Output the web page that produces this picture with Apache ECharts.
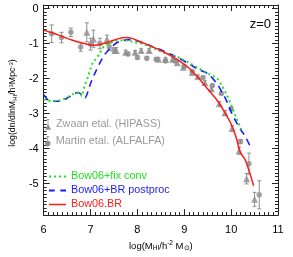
<!DOCTYPE html>
<html><head><meta charset="utf-8">
<script src="https://cdn.jsdelivr.net/npm/echarts@6/dist/echarts.min.js"></script>
<style>html,body{margin:0;padding:0;background:#fff}#c{width:293px;height:257px}</style>
</head><body><div id="c"></div>
<script>
// ---- data ----
const zwaanX   = [6.92, 7.06, 7.35, 7.55, 7.75, 7.95, 8.08, 8.25, 8.45, 8.6, 8.75, 8.85, 8.98, 9.17, 9.29, 9.44, 9.58, 9.75, 9.87, 10.02, 10.17, 10.33, 10.5];
const zwaanY   = [-0.68, -0.87, -0.88, -1.2, -1.25, -1.25, -1.2, -1.2, -1.45, -1.45, -1.45, -1.55, -1.68, -1.83, -1.94, -2.11, -2.29, -2.72, -2.98, -3.43, -4.06, -4.86, -5.45];
const zwaanErr = [0.27, 0.25, 0.12, 0.08, 0.06, 0.05, 0.05, 0.05, 0.04, 0.04, 0.04, 0.04, 0.04, 0.04, 0.04, 0.05, 0.05, 0.06, 0.07, 0.08, 0.1, 0.15, 0.2];

const martinX   = [6.17, 6.38, 6.58, 6.79, 7.0, 7.2, 7.4, 7.5, 7.8, 8.0, 8.2, 8.4, 8.6, 8.8, 9.0, 9.17, 9.4, 9.6, 9.79, 10.0, 10.2, 10.38, 10.6];
const martinY   = [-0.72, -0.83, -0.68, -1.1, -1.02, -1.0, -1.1, -1.2, -1.3, -1.4, -1.42, -1.45, -1.5, -1.5, -1.65, -1.8, -1.97, -2.2, -2.43, -2.86, -3.8, -4.43, -5.32];
const martinErr = [0.25, 0.15, 0.12, 0.12, 0.17, 0.15, 0.1, 0.08, 0.05, 0.05, 0.04, 0.04, 0.04, 0.04, 0.03, 0.03, 0.03, 0.03, 0.03, 0.04, 0.06, 0.3, 0.4];

const fixConvX = [6.0, 6.2, 6.35, 6.5, 6.65, 6.77, 6.81, 6.875, 6.94, 7.0, 7.04, 7.19, 7.25, 7.31, 7.42, 7.52, 7.73, 7.94, 8.15, 8.35, 8.56, 8.77, 8.92, 9.1, 9.3, 9.5, 9.7, 9.8, 9.9, 10.0, 10.1, 10.22];
const fixConvY = [-2.6, -2.65, -2.62, -2.54, -2.43, -2.4, -2.5, -2.2, -1.97, -1.71, -1.57, -1.3, -1.14, -1.06, -0.99, -0.92, -0.91, -0.96, -1.03, -1.14, -1.26, -1.34, -1.42, -1.55, -1.7, -1.85, -2.0, -2.2, -2.45, -2.75, -3.1, -3.45];

const postX = [6.0, 6.1, 6.2, 6.4, 6.55, 6.73, 6.8, 6.88, 6.95, 7.0, 7.1, 7.2, 7.3, 7.46, 7.6, 7.8, 7.95, 8.1, 8.3, 8.5, 8.7, 8.9, 9.1, 9.3, 9.5, 9.7, 9.8, 9.9, 10.0, 10.1, 10.2, 10.3, 10.44];
const postY = [-2.46, -2.62, -2.65, -2.63, -2.52, -2.4, -2.45, -2.55, -2.35, -2.14, -1.83, -1.55, -1.32, -1.08, -0.95, -0.89, -0.92, -0.97, -1.08, -1.18, -1.3, -1.43, -1.58, -1.74, -1.86, -2.15, -2.38, -2.63, -2.95, -3.22, -3.45, -3.65, -4.03];

const brX = [6.0, 6.2, 6.4, 6.6, 6.8, 7.0, 7.1, 7.2, 7.4, 7.6, 7.75, 7.9, 8.1, 8.3, 8.5, 8.7, 8.9, 9.1, 9.3, 9.5, 9.7, 9.9, 10.0, 10.1, 10.2, 10.3, 10.48];
const brY = [-0.62, -0.7, -0.8, -0.9, -0.98, -1.04, -1.05, -1.03, -0.95, -0.86, -0.83, -0.86, -0.97, -1.08, -1.2, -1.34, -1.5, -1.7, -1.98, -2.3, -2.62, -3.05, -3.3, -3.65, -4.12, -4.32, -5.06];

const xTicks = [6, 7, 8, 9, 10, 11];
const yTicks = [-5, -4, -3, -2, -1, 0];

// ---- styling ----
const GRAY = '#8e8e8e';
const GREEN = '#22e022';
const BLUE = '#1a1aff';
const RED = '#ff1a1a';
const FONT = '"Liberation Sans", Arial, Helvetica, sans-serif';

const zip = (a, b, c) => a.map((v, i) => c ? [v, b[i], c[i]] : [v, b[i]]);

function errRender(params, api) {
  const x = api.value(0), y = api.value(1), e = api.value(2);
  const p1 = api.coord([x, y + e]), p2 = api.coord([x, y - e]);
  const w = 2;
  const st = { stroke: GRAY, lineWidth: 1 };
  return { type: 'group', children: [
    { type: 'line', shape: { x1: p1[0], y1: p1[1], x2: p2[0], y2: p2[1] }, style: st },
    { type: 'line', shape: { x1: p1[0] - w, y1: p1[1], x2: p1[0] + w, y2: p1[1] }, style: st },
    { type: 'line', shape: { x1: p2[0] - w, y1: p2[1], x2: p2[0] + w, y2: p2[1] }, style: st }
  ]};
}

const axisCommon = {
  type: 'value',
  axisLine: { show: true, onZero: false, lineStyle: { color: '#222', width: 1 } },
  axisTick: { show: true, inside: true, length: 6, lineStyle: { color: '#222' } },
  minorTick: { show: true, splitNumber: 10, length: 3, lineStyle: { color: '#222' } },
  splitLine: { show: false },
  minorSplitLine: { show: false }
};

const names = {
  zw: 'Zwaan etal. (HIPASS)',
  ma: 'Martin etal. (ALFALFA)',
  fc: 'Bow06+fix conv',
  pp: 'Bow06+BR postproc',
  br: 'Bow06.BR'
};

function oneLegend(name, left, top, color, icon, iw, ih) {
  return {
    show: true, orient: 'vertical', left: left, top: top,
    itemWidth: iw, itemHeight: ih, padding: 0, itemGap: 0,
    selectedMode: false,
    textStyle: { fontFamily: FONT, fontSize: 10.8, color: color },
    data: [{ name: name, icon: icon, textStyle: { color: color } }]
  };
}

const triIcon = 'path://M4,0H8V1H6.5V7H5.5V1H4Z M2,14L6,6L10,14Z';
const cirIcon = 'path://M4,0H8V1H6.5V14H5.5V1H4Z M2.5,9.5A3.5,3.5 0 1 1 9.5,9.5A3.5,3.5 0 1 1 2.5,9.5Z';
const dotIcon = 'path://M0,0h2v2h-2z M5,0h2v2h-2z M10,0h2v2h-2z M15,0h2v2h-2z';
const dashIcon = 'path://M0,0h6v2h-6z M12,0h6v2h-6z';
const solidIcon = 'path://M0,0h18v1.6h-18z';

const option = {
  animation: false,
  backgroundColor: '#fff',
  textStyle: { fontFamily: FONT },
  title: { text: 'z=0', right: 22, top: 18, padding: 0,
    textStyle: { fontFamily: FONT, fontSize: 13, fontWeight: 'normal', color: '#000' } },
  grid: { left: 40, right: 15, top: 5, bottom: 41, containLabel: false },
  xAxis: [
    Object.assign({}, axisCommon, {
      position: 'bottom', min: xTicks[0], max: xTicks[xTicks.length - 1], interval: 1,
      axisLabel: { show: true, margin: 9, color: '#000', fontSize: 11, fontFamily: FONT },
      name: 'log(M{sub|HI}/h{sup|-2} M{sub|⊙})',
      nameLocation: 'middle', nameGap: 23,
      nameTextStyle: { color: '#000', fontSize: 9.5, fontFamily: FONT,
        rich: { sub: { fontSize: 6.5, padding: [5, 0, 0, 0], fontFamily: FONT, color: '#000' },
                sup: { fontSize: 6.5, padding: [0, 0, 5, 0], fontFamily: FONT, color: '#000' } } }
    }),
    Object.assign({}, axisCommon, {
      position: 'top', min: xTicks[0], max: xTicks[xTicks.length - 1], interval: 1,
      axisLabel: { show: false }
    })
  ],
  yAxis: [
    Object.assign({}, axisCommon, {
      position: 'left', min: -5.9, max: 0.1, splitNumber: 6,
      axisLabel: { show: true, margin: 5, color: '#000', fontSize: 11, fontFamily: FONT,
        showMinLabel: false, showMaxLabel: false,
        formatter: v => (yTicks.indexOf(Math.round(v * 10) / 10) >= 0 ? String(v) : '') },
      name: 'log(dn/dlnM{sub|HI}/h{sup|3}Mpc{sup|-3})',
      nameLocation: 'middle', nameGap: 22, nameRotate: 90,
      nameTextStyle: { color: '#000', fontSize: 8.8, fontFamily: FONT, padding: [0, 0, 0, 14],
        rich: { sub: { fontSize: 6, padding: [4, 0, 0, 0], fontFamily: FONT, color: '#000' },
                sup: { fontSize: 6, padding: [0, 0, 4, 0], fontFamily: FONT, color: '#000' } } }
    }),
    Object.assign({}, axisCommon, {
      position: 'right', min: -5.9, max: 0.1, splitNumber: 6,
      axisLabel: { show: false }
    })
  ],
  legend: [
    oneLegend(names.zw, 45, 119, '#9a9a9a', triIcon, 6, 11),
    oneLegend(names.ma, 45, 136, '#9a9a9a', cirIcon, 6, 11),
    oneLegend(names.fc, 49, 171, GREEN, dotIcon, 17, 2),
    oneLegend(names.pp, 49, 185, BLUE, dashIcon, 17, 2),
    oneLegend(names.br, 49, 199, RED, solidIcon, 17, 2)
  ],
  series: [
    { name: names.zw, type: 'custom', renderItem: errRender, data: zip(zwaanX, zwaanY, zwaanErr),
      encode: { x: 0, y: 1 }, itemStyle: { color: GRAY }, z: 2, silent: true },
    { name: names.zw, type: 'scatter', symbol: 'triangle', symbolSize: 7, data: zip(zwaanX, zwaanY),
      itemStyle: { color: GRAY }, z: 3 },
    { name: names.ma, type: 'custom', renderItem: errRender, data: zip(martinX, martinY, martinErr),
      encode: { x: 0, y: 1 }, itemStyle: { color: GRAY }, z: 2, silent: true },
    { name: names.ma, type: 'scatter', symbol: 'circle', symbolSize: 5.5, data: zip(martinX, martinY),
      itemStyle: { color: GRAY }, z: 3 },
    { name: names.pp, type: 'line', data: zip(postX, postY), symbol: 'none', smooth: 0.3,
      lineStyle: { color: BLUE, width: 1.6, type: [7, 5] }, itemStyle: { color: BLUE }, z: 4 },
    { name: names.fc, type: 'line', data: zip(fixConvX, fixConvY), symbol: 'none', smooth: 0.3,
      lineStyle: { color: GREEN, width: 2, type: [2, 3] }, itemStyle: { color: GREEN }, z: 5 },
    { name: names.br, type: 'line', data: zip(brX, brY), symbol: 'none', smooth: 0.3,
      lineStyle: { color: RED, width: 1.5 }, itemStyle: { color: RED }, z: 6 }
  ]
};

const chart = echarts.init(document.getElementById('c'), null, { renderer: 'canvas' });
chart.setOption(option);
</script>
</body></html>
